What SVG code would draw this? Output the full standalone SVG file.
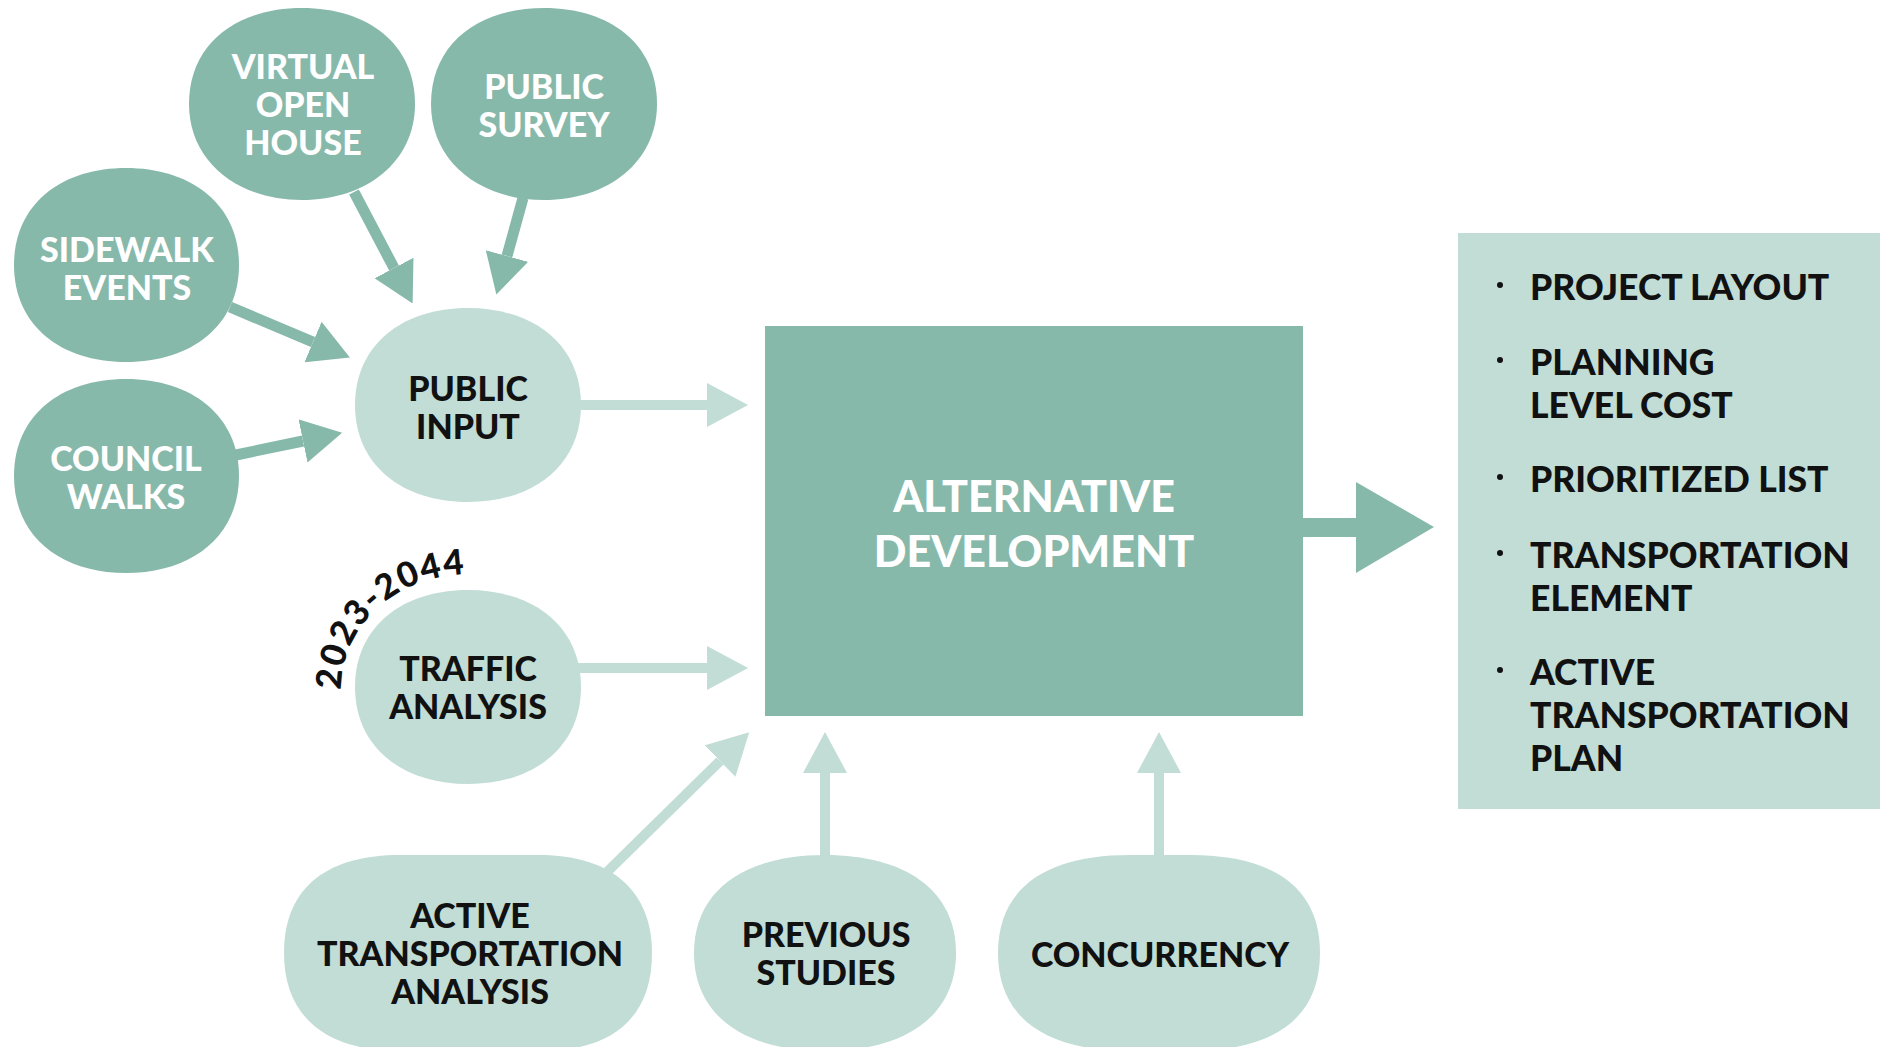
<svg xmlns="http://www.w3.org/2000/svg" width="1880" height="1047" viewBox="0 0 1880 1047">
  <style>
    .dark { fill: #87b9ab; }
    .light { fill: #c1ddd6; }
    .lbl { font-family: "Lato", "Liberation Sans", sans-serif; font-weight: 900; font-size: 34px; text-anchor: middle; }
    .lbl-w { fill: #ffffff; }
    .lbl-b { fill: #111111; }
    .big { font-size: 43px; }
    .item { font-family: "Lato", "Liberation Sans", sans-serif; font-weight: 900; font-size: 35.5px; fill: #111111; }
    .years { font-family: "Lato", "Liberation Sans", sans-serif; font-weight: 900; font-size: 35px; fill: #111111; }
    .line-dark { stroke: #87b9ab; stroke-width: 11; fill: none; }
    .line-light { stroke: #c1ddd6; stroke-width: 10; fill: none; }
  </style>
  <defs>
    <marker id="headDark" markerUnits="userSpaceOnUse" viewBox="0 0 40 44" markerWidth="40" markerHeight="44" refX="0" refY="22" orient="auto">
      <path d="M0,0 L40,22 L0,44 Z" fill="#87b9ab"/>
    </marker>
    <marker id="headLight" markerUnits="userSpaceOnUse" viewBox="0 0 41 44" markerWidth="41" markerHeight="44" refX="0" refY="22" orient="auto">
      <path d="M0,0 L41,22 L0,44 Z" fill="#c1ddd6"/>
    </marker>
    <!-- baseline for the forecast years, hugging the traffic bubble -->
    <path id="yearArc" d="M 341 690 A 127 114 0 0 1 490 576"/>
  </defs>

  <rect width="1880" height="1047" fill="#ffffff"/>

  <!-- connectors -->
  <g id="connectors">
    <line class="line-dark" x1="354" y1="192" x2="394" y2="268" marker-end="url(#headDark)"/>
    <line class="line-dark" x1="523" y1="198" x2="507" y2="256" marker-end="url(#headDark)"/>
    <line class="line-dark" x1="230" y1="307" x2="313" y2="342" marker-end="url(#headDark)"/>
    <line class="line-dark" x1="236" y1="455" x2="303" y2="441" marker-end="url(#headDark)"/>
    <line class="line-light" x1="578" y1="405" x2="707" y2="405" marker-end="url(#headLight)"/>
    <line class="line-light" x1="578" y1="668" x2="707" y2="668" marker-end="url(#headLight)"/>
    <line class="line-light" x1="606" y1="873" x2="720" y2="761" marker-end="url(#headLight)"/>
    <line class="line-light" x1="825" y1="860" x2="825" y2="773" marker-end="url(#headLight)"/>
    <line class="line-light" x1="1159" y1="860" x2="1159" y2="773" marker-end="url(#headLight)"/>
    <polygon class="dark" points="1300,518 1356,518 1356,482 1434,527 1356,573 1356,537 1300,537"/>
  </g>

  <!-- engagement sources -->
  <g id="virtual-open-house">
    <path class="dark" d="M189,104 C189,44 236,8 302,8 C368,8 415,44 415,104 C415,162 366,200 302,200 C238,200 189,162 189,104 Z"/>
    <text class="lbl lbl-w" x="303" y="79">VIRTUAL</text>
    <text class="lbl lbl-w" x="303" y="117">OPEN</text>
    <text class="lbl lbl-w" x="303" y="155">HOUSE</text>
  </g>
  <g id="public-survey">
    <path class="dark" d="M431,104 C431,44 478,8 544,8 C610,8 657,44 657,104 C657,162 608,200 544,200 C480,200 431,162 431,104 Z"/>
    <text class="lbl lbl-w" x="544" y="99">PUBLIC</text>
    <text class="lbl lbl-w" x="544" y="137">SURVEY</text>
  </g>
  <g id="sidewalk-events">
    <path class="dark" d="M14,265 C14,205 60,168 126,168 C192,168 239,205 239,265 C239,325 192,362 126,362 C60,362 14,325 14,265 Z"/>
    <text class="lbl lbl-w" x="127" y="262">SIDEWALK</text>
    <text class="lbl lbl-w" x="127" y="300">EVENTS</text>
  </g>
  <g id="council-walks">
    <path class="dark" d="M14,476 C14,416 60,379 126,379 C192,379 239,416 239,476 C239,536 192,573 126,573 C60,573 14,536 14,476 Z"/>
    <text class="lbl lbl-w" x="126" y="471">COUNCIL</text>
    <text class="lbl lbl-w" x="126" y="509">WALKS</text>
  </g>

  <!-- analysis inputs -->
  <g id="public-input">
    <path class="light" d="M355,405 C355,345 402,308 468,308 C534,308 581,345 581,405 C581,465 534,502 468,502 C402,502 355,465 355,405 Z"/>
    <text class="lbl lbl-b" x="468" y="401">PUBLIC</text>
    <text class="lbl lbl-b" x="468" y="439">INPUT</text>
  </g>
  <g id="traffic-analysis">
    <path class="light" d="M355,687 C355,627 402,590 468,590 C534,590 581,627 581,687 C581,747 534,784 468,784 C402,784 355,747 355,687 Z"/>
    <text class="lbl lbl-b" x="468" y="681">TRAFFIC</text>
    <text class="lbl lbl-b" x="468" y="719">ANALYSIS</text>
    <text class="years" letter-spacing="1.5"><textPath href="#yearArc">2023-2044</textPath></text>
  </g>
  <g id="active-transportation-analysis">
    <path class="light" d="M284,953 C284,885 330,855 400,855 L540,855 C610,855 652,890 652,953 C652,1020 610,1051 540,1051 L400,1051 C330,1051 284,1020 284,953 Z"/>
    <text class="lbl lbl-b" x="470" y="928">ACTIVE</text>
    <text class="lbl lbl-b" x="470" y="966">TRANSPORTATION</text>
    <text class="lbl lbl-b" x="470" y="1004">ANALYSIS</text>
  </g>
  <g id="previous-studies">
    <path class="light" d="M694,953 C694,890 745,855 825,855 C905,855 956,890 956,953 C956,1016 905,1051 825,1051 C745,1051 694,1016 694,953 Z"/>
    <text class="lbl lbl-b" x="826" y="947">PREVIOUS</text>
    <text class="lbl lbl-b" x="826" y="985">STUDIES</text>
  </g>
  <g id="concurrency">
    <path class="light" d="M998,953 C998,885 1050,855 1130,855 L1190,855 C1270,855 1320,885 1320,953 C1320,1021 1270,1051 1190,1051 L1130,1051 C1050,1051 998,1021 998,953 Z"/>
    <text class="lbl lbl-b" x="1160" y="967">CONCURRENCY</text>
  </g>

  <!-- central step -->
  <g id="alternative-development">
    <rect class="dark" x="765" y="326" width="538" height="390"/>
    <text class="lbl lbl-w big" x="1034" y="512">ALTERNATIVE</text>
    <text class="lbl lbl-w big" x="1034" y="567">DEVELOPMENT</text>
  </g>

  <!-- outcomes -->
  <g id="outcomes">
    <rect class="light" x="1458" y="233" width="422" height="576"/>
    <g fill="#111111">
      <circle cx="1500" cy="285" r="3"/>
      <circle cx="1500" cy="360" r="3"/>
      <circle cx="1500" cy="477" r="3"/>
      <circle cx="1500" cy="553" r="3"/>
      <circle cx="1500" cy="670" r="3"/>
    </g>
    <text class="item" x="1530" y="300">PROJECT LAYOUT</text>
    <text class="item" x="1530" y="375">PLANNING</text>
    <text class="item" x="1530" y="418">LEVEL COST</text>
    <text class="item" x="1530" y="492">PRIORITIZED LIST</text>
    <text class="item" x="1530" y="568">TRANSPORTATION</text>
    <text class="item" x="1530" y="611">ELEMENT</text>
    <text class="item" x="1530" y="685">ACTIVE</text>
    <text class="item" x="1530" y="728">TRANSPORTATION</text>
    <text class="item" x="1530" y="771">PLAN</text>
  </g>
</svg>
